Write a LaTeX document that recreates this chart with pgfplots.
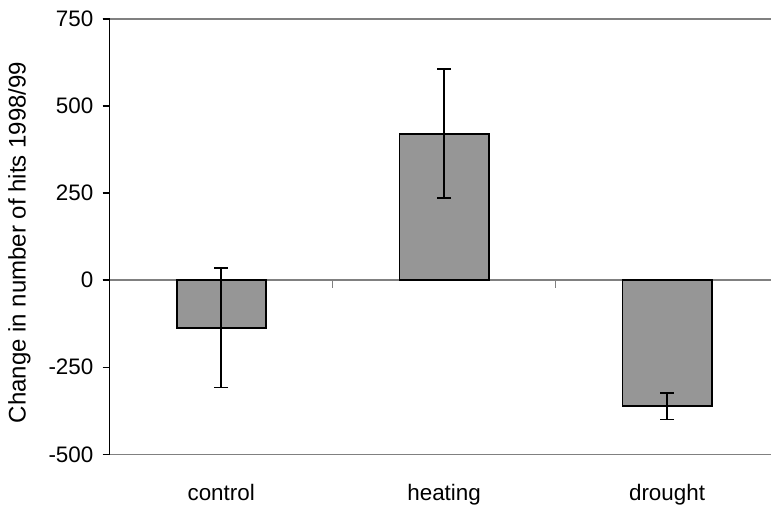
\documentclass[border=0pt]{standalone}
\usepackage{pgfplots}
\pgfplotsset{compat=1.18}
\usepackage{fontspec}
\setmainfont{Liberation Sans}
\definecolor{barfill}{RGB}{150,150,150}
\definecolor{axgray}{RGB}{128,128,128}
\begin{document}
\begin{tikzpicture}
\useasboundingbox (0,0) rectangle (578.25pt,381.75pt);
\begin{axis}[
  at={(82.3pt,41pt)}, anchor=south west,
  scale only axis, width=495.9pt, height=326.5pt,
  font=\fontsize{16.8}{20}\selectfont,
  xmin=-0.5, xmax=2.466, ymin=-500, ymax=750,
  axis x line=bottom, axis y line=left,
  x axis line style={-, draw=axgray, line width=1.1pt},
  y axis line style={-, draw=black, line width=1.1pt},
  xtick={0,1,2}, xticklabels={control,heating,drought},
  xtick style={draw=none},
  xticklabel style={yshift=-14pt},
  ytick={-500,-250,0,250,500,750},
  yticklabels={-500,-250,0,250,500,750},
  yticklabel style={xshift=-3.5pt},
  ytick style={draw=black, line width=1.1pt},
  tick align=outside, major tick length=5.25pt,
  extra y ticks={0,750}, extra y tick labels={},
  extra y tick style={grid=major, major grid style={draw=axgray, line width=1.1pt}},
  ylabel={Change in number of hits 1998/99},
  ylabel style={font=\fontsize{18}{21}\selectfont, xshift=-4.4pt, yshift=-4pt},
  ybar, bar width=0.4,
]
\addplot[fill=barfill, draw=black, line width=1.4pt,
  error bars/.cd, y dir=both, y explicit,
  error bar style={line width=1.4pt, black},
  error mark options={rotate=90, mark size=5.25pt, line width=1.4pt, black}]
  coordinates {
    (0,-137) +- (0,171)
    (1,421) +- (0,186)
    (2,-362) +- (0,38)
  };
\draw[axgray, line width=1.1pt] (axis cs:0.5,0) -- ++(0pt,-6pt);
\draw[axgray, line width=1.1pt] (axis cs:1.5,0) -- ++(0pt,-6pt);
\end{axis}
\end{tikzpicture}
\end{document}
